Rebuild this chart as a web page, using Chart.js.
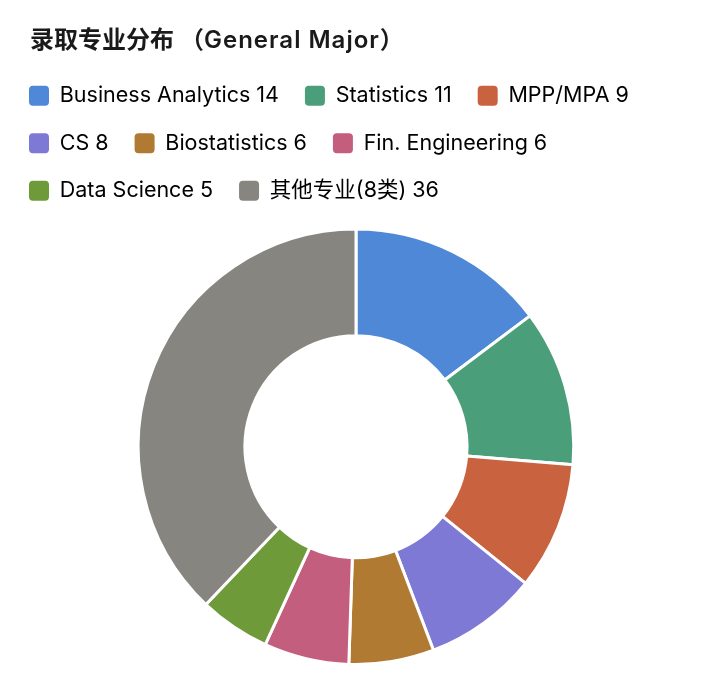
<!DOCTYPE html>
<html lang="zh">
<head>
<meta charset="UTF-8">
<title>录取专业分布</title>
<script src="https://cdn.jsdelivr.net/npm/chart.js@4"></script>
<style>
  body { margin: 0; background: #fff; }
  .wrap { position: relative; width: 714px; height: 686px; }
  h2 {
    position: absolute; left: 30px; top: 24px; margin: 0;
    font: 600 24px/32px Inter, 'Noto Sans CJK SC', sans-serif;
    color: #1a1a1a; white-space: nowrap;
  }
  h2 .paren { padding-left: 6px; }
  h2 .latin { letter-spacing: 1px; }
</style>
</head>
<body>
<div class="wrap">
  <h2>录取专业分布<span class="paren">（</span><span class="latin">General Major</span>）</h2>
  <canvas id="majorChart"></canvas>
</div>
<script>
  const majors = ['Business Analytics', 'Statistics', 'MPP/MPA', 'CS', 'Biostatistics', 'Fin. Engineering', 'Data Science', '其他专业(8类)'];
  const counts = [14, 11, 9, 8, 6, 6, 5, 36];
  const colors = ['#4e88d6', '#4b9e7a', '#c8623f', '#7f79d6', '#b07a32', '#c45e7e', '#6e9a3a', '#87857f'];

  const fontFamily = "Inter, 'Noto Sans CJK SC', sans-serif";

  // extra room between legend and ring
  const legendGap = {
    id: 'legendGap',
    beforeInit(chart) {
      const fit = chart.legend.fit;
      chart.legend.fit = function () {
        fit.call(this);
        this.height += 16;
      };
    }
  };

  new Chart(document.getElementById('majorChart'), {
    type: 'doughnut',
    data: {
      labels: majors,
      datasets: [{
        data: counts,
        backgroundColor: colors,
        borderColor: '#fff',
        borderWidth: 3
      }]
    },
    options: {
      responsive: true,
      maintainAspectRatio: false,
      animation: false,
      cutout: '51%',
      layout: { padding: { left: 3, right: 5, top: 59, bottom: 20 } },
      plugins: {
        legend: {
          position: 'top',
          align: 'start',
          labels: {
            boxWidth: 20,
            boxHeight: 20,
            useBorderRadius: true,
            borderRadius: 4,
            padding: 26,
            color: '#3d3d3d',
            font: { family: fontFamily, size: 21.5 },
            generateLabels(chart) {
              return majors.map((m, i) => ({
                text: m + ' ' + counts[i],
                fillStyle: colors[i],
                strokeStyle: colors[i],
                lineWidth: 0,
                borderRadius: 4,
                hidden: false,
                index: i
              }));
            }
          }
        },
        tooltip: { enabled: false }
      }
    },
    plugins: [legendGap]
  });
</script>
</body>
</html>
